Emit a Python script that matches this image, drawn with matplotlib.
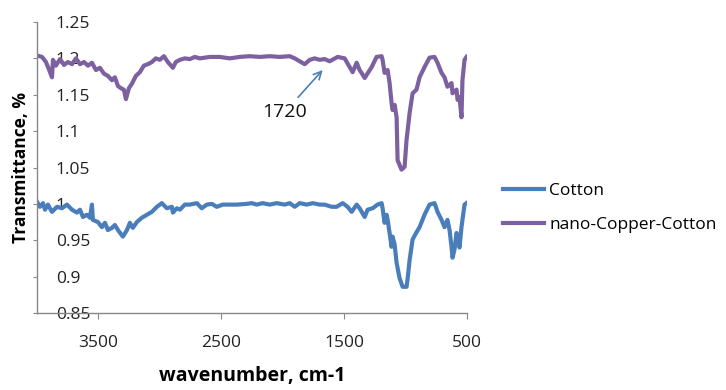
import matplotlib
matplotlib.use("Agg")
import matplotlib.pyplot as plt

# Cotton spectrum (wavenumber, transmittance)
cotton_wn = [4000, 3976, 3951, 3935, 3911, 3878, 3837, 3797, 3756, 3715, 3675, 3650, 3626,
             3593, 3569, 3553, 3545, 3504, 3472, 3447, 3423, 3390, 3366, 3341, 3301, 3268,
             3244, 3220, 3187, 3146, 3106, 3065, 3024, 2984, 2943, 2902, 2894, 2862, 2837,
             2797, 2756, 2699, 2659, 2618, 2577, 2537, 2488, 2374, 2293, 2252, 2211, 2163,
             2106, 2049, 1984, 1943, 1902, 1862, 1805, 1756, 1699, 1659, 1602, 1561, 1512,
             1472, 1439, 1398, 1374, 1333, 1309, 1268, 1228, 1195, 1187, 1171, 1154, 1146,
             1130, 1114, 1106, 1089, 1073, 1049, 1024, 992, 984, 967, 943, 911, 886, 846,
             805, 764, 740, 707, 683, 659, 642, 626, 618, 602, 585, 577, 561, 545, 537, 520, 504]
cotton_t = [1.003, 0.996, 1.001, 0.992, 0.999, 0.989, 0.996, 0.994, 0.999, 0.992, 0.988, 0.992, 0.982,
            0.985, 0.981, 0.999, 0.978, 0.975, 0.968, 0.974, 0.964, 0.967, 0.971, 0.964, 0.955, 0.964,
            0.974, 0.967, 0.975, 0.981, 0.985, 0.989, 0.996, 1.001, 0.994, 0.996, 0.988, 0.994, 0.992,
            0.999, 0.999, 1.001, 0.994, 0.999, 1.000, 0.996, 0.999, 0.999, 1.000, 1.001, 0.999, 1.001,
            0.999, 1.001, 0.999, 1.001, 0.996, 1.001, 0.999, 1.001, 0.999, 0.999, 0.996, 0.996, 1.001,
            0.996, 0.989, 0.999, 0.994, 0.982, 0.992, 0.994, 0.999, 1.001, 0.994, 0.974, 0.985, 0.978,
            0.960, 0.941, 0.955, 0.944, 0.919, 0.898, 0.886, 0.886, 0.896, 0.923, 0.951, 0.961, 0.968,
            0.985, 0.999, 1.001, 0.989, 0.978, 0.968, 0.978, 0.964, 0.941, 0.926, 0.937, 0.960, 0.955,
            0.940, 0.968, 0.978, 0.999, 1.001]

# nano-Copper-Cotton spectrum
nano_wn = [4000, 3959, 3927, 3894, 3878, 3870, 3846, 3813, 3780, 3748, 3715, 3683, 3650, 3618,
           3585, 3553, 3520, 3488, 3455, 3423, 3390, 3366, 3341, 3317, 3293, 3276, 3252, 3228,
           3195, 3163, 3130, 3098, 3065, 3033, 3000, 2967, 2935, 2894, 2870, 2837, 2797, 2756,
           2715, 2675, 2593, 2512, 2431, 2350, 2268, 2187, 2106, 2024, 1943, 1902, 1862, 1821,
           1780, 1740, 1699, 1659, 1618, 1553, 1496, 1455, 1431, 1398, 1374, 1358, 1333, 1276,
           1236, 1195, 1187, 1171, 1146, 1130, 1114, 1106, 1089, 1073, 1065, 1033, 1008, 992,
           967, 943, 911, 886, 846, 805, 764, 740, 707, 683, 659, 626, 618, 585, 577, 561,
           545, 537, 520, 504]
nano_t = [1.204, 1.202, 1.195, 1.181, 1.174, 1.198, 1.190, 1.199, 1.191, 1.195, 1.192, 1.200, 1.192, 1.195,
          1.190, 1.194, 1.184, 1.187, 1.179, 1.176, 1.170, 1.174, 1.162, 1.159, 1.157, 1.144, 1.159, 1.165,
          1.176, 1.181, 1.190, 1.192, 1.195, 1.200, 1.198, 1.203, 1.195, 1.187, 1.195, 1.198, 1.200, 1.199,
          1.202, 1.200, 1.202, 1.202, 1.200, 1.202, 1.203, 1.202, 1.203, 1.202, 1.203, 1.200, 1.196, 1.192,
          1.198, 1.200, 1.198, 1.199, 1.196, 1.202, 1.200, 1.188, 1.181, 1.194, 1.184, 1.180, 1.173, 1.188,
          1.202, 1.203, 1.198, 1.180, 1.184, 1.166, 1.139, 1.129, 1.136, 1.119, 1.060, 1.047, 1.051, 1.088,
          1.125, 1.152, 1.157, 1.174, 1.188, 1.201, 1.202, 1.194, 1.180, 1.174, 1.161, 1.166, 1.152, 1.157,
          1.143, 1.147, 1.119, 1.170, 1.198, 1.202]

series_labels = ["Cotton", "nano-Copper-Cotton"]
x_ticks = [3500, 2500, 1500, 500]
y_ticks = [0.85, 0.9, 0.95, 1.0, 1.05, 1.1, 1.15, 1.2, 1.25]
y_tick_labels = ["0.85", "0.9", "0.95", "1", "1.05", "1.1", "1.15", "1.2", "1.25"]

plt.rcParams['font.family'] = ['Open Sans', 'DejaVu Sans']

fig = plt.figure(figsize=(7.26, 3.9), dpi=100)
ax = fig.add_axes([37/726, 1 - 313/390, (467 - 37)/726, (313 - 22)/390])

blue = '#4A7EBB'
purple = '#7D60A0'
ax.plot(cotton_wn, cotton_t, color=blue, lw=3.0, label=series_labels[0], solid_joinstyle='round')
ax.plot(nano_wn, nano_t, color=purple, lw=3.0, label=series_labels[1], solid_joinstyle='round')

ax.set_xlim(4000, 500)
ax.set_ylim(0.85, 1.25)
ax.set_xticks(x_ticks)
ax.set_xticklabels([str(t) for t in x_ticks])
ax.set_yticks(y_ticks)
ax.set_yticklabels(y_tick_labels)

for s in ['top', 'right']:
    ax.spines[s].set_visible(False)
for s in ['left', 'bottom']:
    ax.spines[s].set_color('#888888')
    ax.spines[s].set_linewidth(1.0)

ax.tick_params(axis='y', direction='out', length=3, color='#888888', pad=-16.5,
               labelsize=12.5, labelcolor='#222222')
for lab in ax.get_yticklabels():
    lab.set_horizontalalignment('left')
ax.tick_params(axis='x', direction='out', length=4, color='#888888', pad=12,
               labelsize=12.5, labelcolor='#222222')

ax.set_xlabel('wavenumber, cm-1', fontsize=14, fontweight='bold', labelpad=11)
ax.set_ylabel('Transmittance, %', fontsize=12.5, fontweight='bold', labelpad=2)

ax.annotate('1720', xy=(1675, 1.184), xytext=(1984, 1.126), fontsize=14,
            ha='center', va='center', color='#111111',
            arrowprops=dict(arrowstyle='->', color=blue, lw=1.2, shrinkA=3, shrinkB=0))

leg = ax.legend(loc='center left', frameon=False,
                fontsize=12.5, handlelength=2.4, handletextpad=0.3, labelspacing=1.05)
leg.set_bbox_to_anchor((487/726, 1 - 208/390), transform=fig.transFigure)

fig.savefig('out.png', dpi=100)
